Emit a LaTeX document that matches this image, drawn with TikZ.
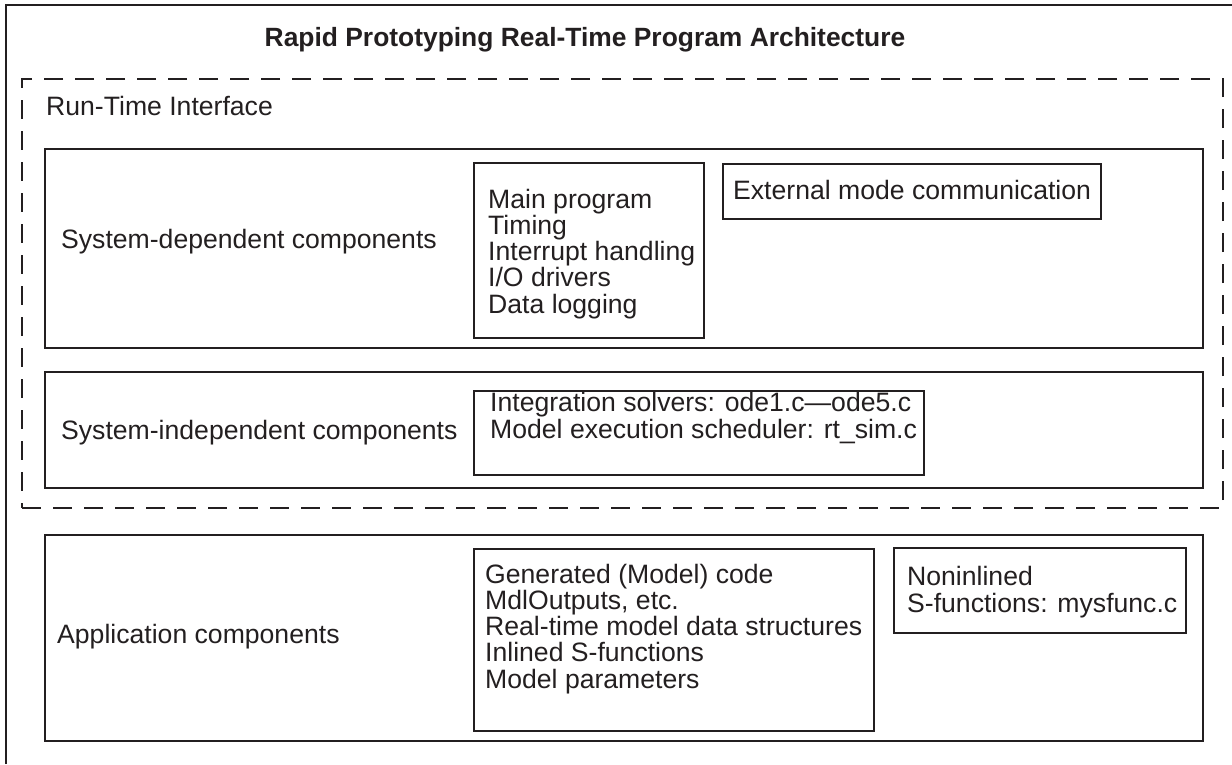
\documentclass[tikz,border=0pt]{standalone}
\usepackage{fontspec}
\setmainfont{Liberation Sans}
\definecolor{ink}{HTML}{231F20}
\tikzset{
  box/.style={draw=ink, line width=2pt, rectangle, anchor=north west, inner sep=0pt},
  txt/.style={text=ink, anchor=base west, inner sep=0pt, align=left,
              font=\fontsize{26.6}{26.2}\selectfont},
}
\begin{document}
\begin{tikzpicture}[x=1pt, y=-1pt]
      \useasboundingbox (0,0) rectangle (1232,764);

      % frame and run-time interface
      \draw [ink, line width=2pt] (6,764) |- (1232,5);
      \node (titleN) [text=ink, anchor=base, inner sep=0pt, font=\fontsize{26.4}{28}\selectfont\bfseries]
            at (585,46) {Rapid Prototyping Real-Time Program Architecture};
      \node (rtiB) [box, draw=ink, dash pattern=on 19pt off 12pt, minimum width=1201pt, minimum height=429pt] at (21,78) {};
      \node (rtiN) [txt] at (46,115) {Run-Time Interface};

      % system-dependent (multi-line labels are placed by their last baseline)
      \node (depB)  [box, minimum width=1158pt, minimum height=199pt] at (44,148) {};
      \node (depN)  [txt] at (61,248) {System-dependent components};
      \node (mainB) [box, minimum width=230pt, minimum height=175pt] at (473,162) {};
      \node (mainN) [txt] at (488,313) {Main program\\Timing\\Interrupt handling\\I/O drivers\\Data logging};
      \node (extB)  [box, minimum width=378pt, minimum height=55pt] at (722,163) {};
      \node (extN)  [txt] at (733,199) {External mode communication};

      % system-independent
      \node (indB)  [box, minimum width=1158pt, minimum height=116pt] at (44,371) {};
      \node (indN)  [txt] at (61,439) {System-independent components};
      \node (solvB) [box, minimum width=450pt, minimum height=84pt] at (473,390) {};
      \node (solvN) [txt] at (490,438) {Integration solvers: ode1.c---ode5.c\\Model execution scheduler: rt\_sim.c};

      % application
      \node (appB)  [box, minimum width=1158pt, minimum height=206pt] at (44,534) {};
      \node (appN)  [txt] at (57,643) {Application components};
      \node (genB)  [box, minimum width=400pt, minimum height=182pt] at (473,548) {};
      \node (genN)  [txt] at (485,688) {Generated (Model) code\\MdlOutputs, etc.\\Real-time model data structures\\Inlined S-functions\\Model parameters};
      \node (sfunB) [box, minimum width=292pt, minimum height=85pt] at (893,547) {};
      \node (sfunN) [txt] at (907,612) {Noninlined\\S-functions: mysfunc.c};
    \end{tikzpicture}
\end{document}
